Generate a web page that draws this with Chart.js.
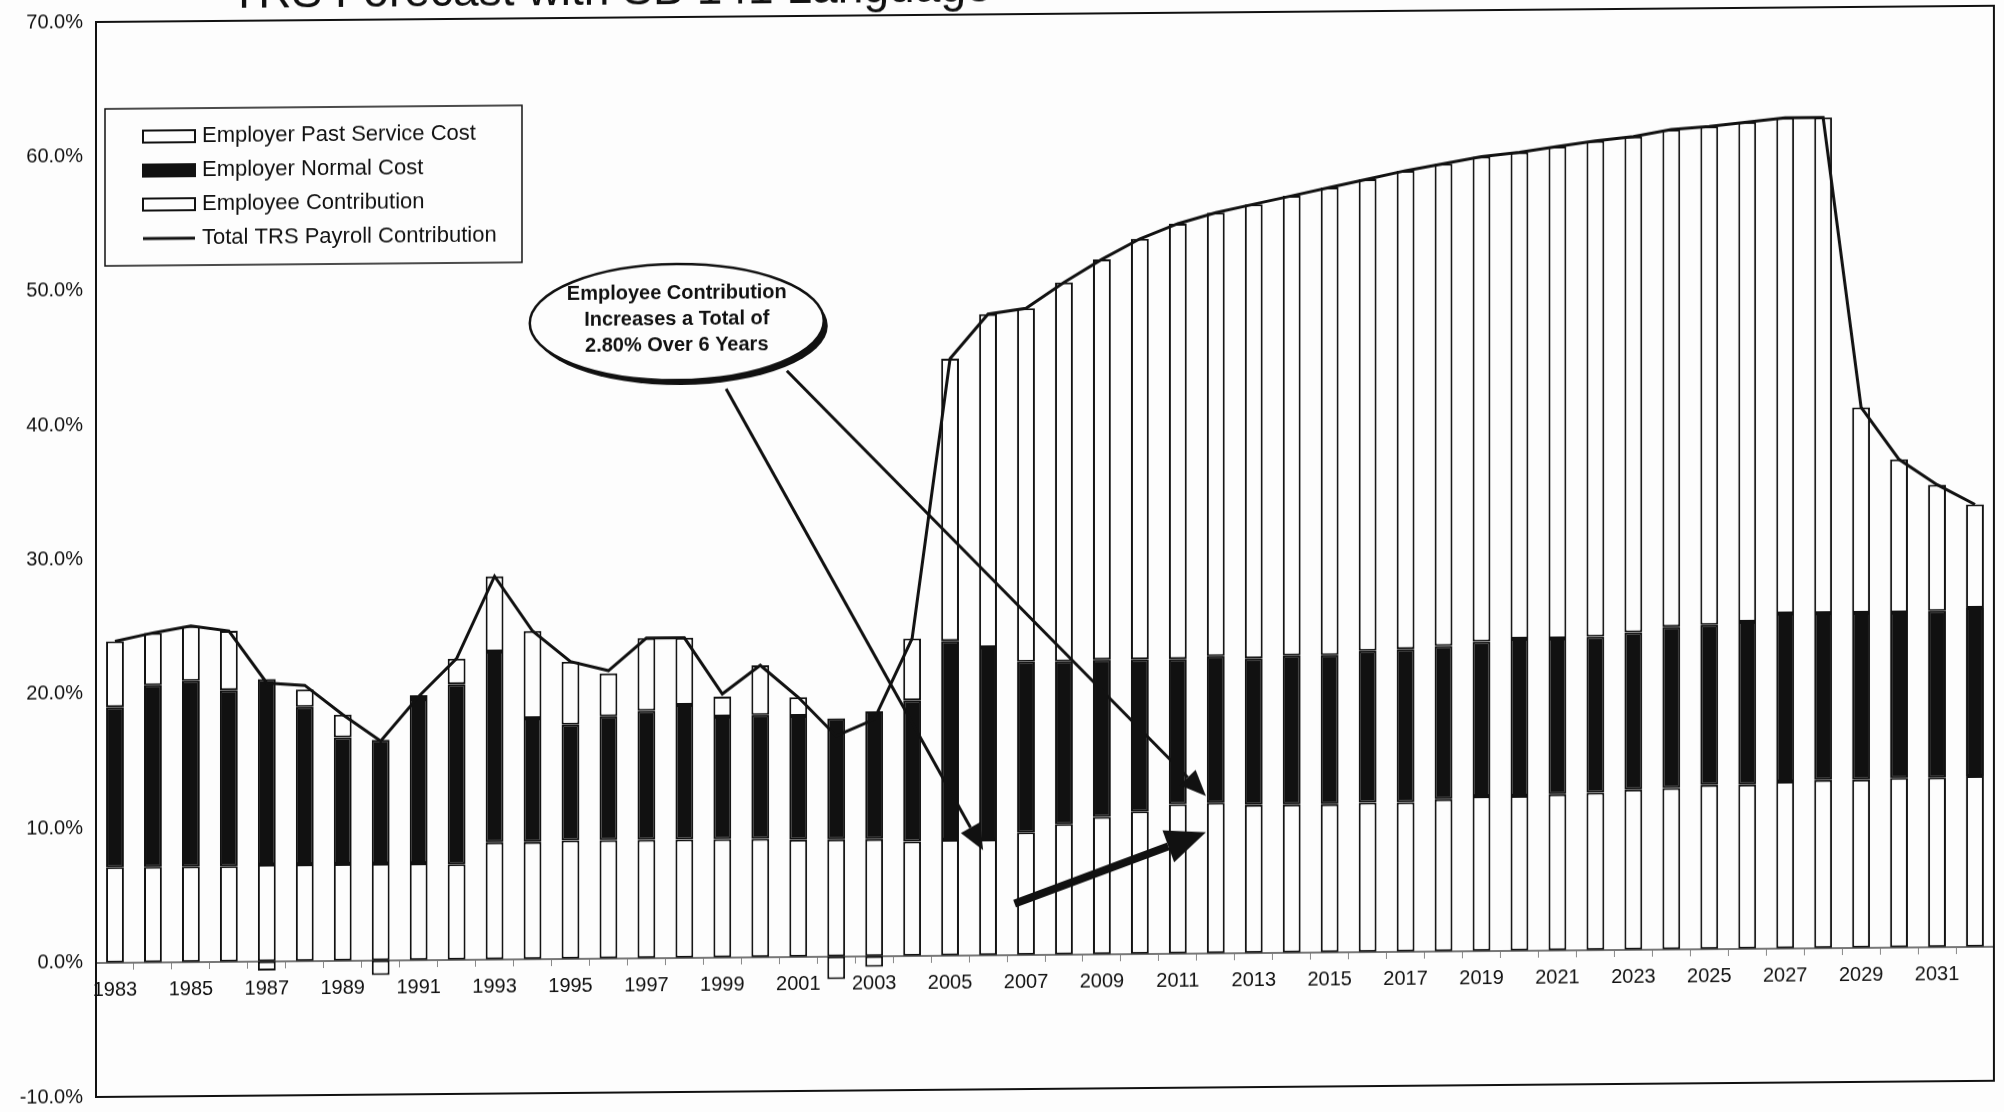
<!DOCTYPE html>
<html>
<head>
<meta charset="utf-8">
<title>TRS Forecast</title>
<script src="https://cdn.jsdelivr.net/npm/chart.js@4.4.1/dist/chart.umd.min.js"></script>
<style>
  html, body { margin: 0; padding: 0; background: #fdfdfd; overflow: hidden; }
  #wrap { width: 2004px; height: 1112px; }
  /* the scanned original leans up to the right a little */
  #trsChart { transform: skewY(-0.49deg); transform-origin: 96px 0; }
</style>
</head>
<body>
<div id="wrap"><canvas id="trsChart" width="2004" height="1112"></canvas></div>
<script>
// values, percent of payroll
const years = ['1983','1984','1985','1986','1987','1988','1989','1990','1991','1992',
  '1993','1994','1995','1996','1997','1998','1999','2000','2001','2002',
  '2003','2004','2005','2006','2007','2008','2009','2010','2011','2012',
  '2013','2014','2015','2016','2017','2018','2019','2020','2021','2022',
  '2023','2024','2025','2026','2027','2028','2029','2030','2031','2032'];

const employeeContribution = [7.1, 7.1, 7.1, 7.1, 7.2, 7.2, 7.2, 7.2, 7.2, 7.1,
  8.7, 8.7, 8.8, 8.8, 8.8, 8.8, 8.8, 8.8, 8.7, 8.7,
  8.7, 8.5, 8.6, 8.6, 9.1, 9.7, 10.2, 10.6, 11.1, 11.2,
  11.0, 11.0, 11.0, 11.1, 11.1, 11.3, 11.5, 11.5, 11.6, 11.7,
  11.9, 12.0, 12.2, 12.2, 12.4, 12.5, 12.5, 12.6, 12.6, 12.7];

const employerNormalCost = [11.9, 13.5, 13.8, 13.1, 13.8, 11.7, 9.4, 9.2, 12.2, 13.4,
  14.2, 9.2, 8.6, 9.2, 9.6, 10.0, 9.1, 9.2, 9.2, 9.0,
  9.5, 10.5, 14.8, 14.3, 12.7, 12.1, 11.7, 11.3, 10.8, 10.9,
  10.9, 11.1, 11.1, 11.3, 11.4, 11.4, 11.5, 11.7, 11.6, 11.6,
  11.7, 12.0, 11.9, 12.1, 12.5, 12.4, 12.4, 12.3, 12.4, 12.5];

const employerPastServiceCost = [4.9, 3.9, 4.1, 4.4, -0.7, 1.3, 1.7, -1.1, 0.3, 1.9,
  5.6, 6.5, 4.7, 3.2, 5.4, 5.0, 1.5, 3.7, 1.4, -1.7,
  -0.8, 4.6, 21.0, 24.8, 26.3, 28.2, 29.8, 31.3, 32.4, 33.0,
  33.8, 34.2, 34.8, 35.1, 35.6, 35.9, 36.1, 36.2, 36.6, 36.9,
  36.9, 37.0, 37.1, 37.2, 36.9, 36.9, 15.3, 11.4, 9.4, 7.7];

const totalContribution = [23.9, 24.5, 25.0, 24.6, 20.7, 20.5, 18.3, 16.3, 19.6, 22.4,
  28.5, 24.4, 22.1, 21.4, 23.8, 23.8, 19.6, 21.7, 19.3, 16.4,
  17.6, 23.6, 44.4, 47.7, 48.1, 50.0, 51.7, 53.2, 54.3, 55.1,
  55.7, 56.3, 56.9, 57.5, 58.1, 58.6, 59.1, 59.4, 59.8, 60.2,
  60.5, 61.0, 61.2, 61.5, 61.8, 61.8, 40.2, 36.3, 34.4, 32.9];

const titleText = 'TRS Forecast with SB 141 Language';
const calloutLines = ['Employee Contribution', 'Increases a Total of', '2.80% Over 6 Years'];

const FONT = "'Liberation Sans', Arial, sans-serif";
Chart.defaults.font.family = FONT;
Chart.defaults.color = '#111';

function arrow(ctx, x1, y1, x2, y2, width, headLen, headWidth) {
  const ang = Math.atan2(y2 - y1, x2 - x1);
  const bx = x2 - headLen * Math.cos(ang);
  const by = y2 - headLen * Math.sin(ang);
  ctx.lineWidth = width;
  ctx.beginPath();
  ctx.moveTo(x1, y1);
  ctx.lineTo(bx, by);
  ctx.stroke();
  ctx.beginPath();
  ctx.moveTo(x2, y2);
  ctx.lineTo(bx + headWidth / 2 * Math.sin(ang), by - headWidth / 2 * Math.cos(ang));
  ctx.lineTo(bx - headWidth / 2 * Math.sin(ang), by + headWidth / 2 * Math.cos(ang));
  ctx.closePath();
  ctx.fill();
}

// frame, cut-off title, legend box and the callout with its arrows
const decorations = {
  id: 'decorations',
  afterDraw(chart) {
    const { ctx, chartArea: a, scales: { x, y } } = chart;
    ctx.save();
    ctx.strokeStyle = '#111';
    ctx.fillStyle = '#111';

    ctx.lineWidth = 2;
    ctx.strokeRect(a.left, a.top, a.right - a.left, a.bottom - a.top);

    // title, only its lower half is on the page
    ctx.font = '40px ' + FONT;
    const w = ctx.measureText(titleText).width;
    const size = 40 * 762 / w;
    ctx.font = size + 'px ' + FONT;
    ctx.textBaseline = 'alphabetic';
    ctx.textAlign = 'left';
    ctx.fillText(titleText, 230, 9);

    // legend
    const lx = 105, ly = 109, lw = 417, lh = 157;
    ctx.fillStyle = '#fdfdfd';
    ctx.fillRect(lx, ly, lw, lh);
    ctx.lineWidth = 1.5;
    ctx.strokeRect(lx, ly, lw, lh);
    const order = [2, 1, 0, 3];
    ctx.font = '22px ' + FONT;
    ctx.textBaseline = 'middle';
    order.forEach((di, r) => {
      const ds = chart.data.datasets[di];
      const cy = 137 + r * 34;
      if (ds.type === 'line') {
        ctx.lineWidth = 3;
        ctx.beginPath();
        ctx.moveTo(143, cy);
        ctx.lineTo(195, cy);
        ctx.stroke();
      } else {
        ctx.fillStyle = ds.backgroundColor;
        ctx.fillRect(143, cy - 6, 52, 12);
        ctx.lineWidth = 2;
        ctx.strokeRect(143, cy - 6, 52, 12);
      }
      ctx.fillStyle = '#111';
      ctx.fillText(ds.label, 202, cy);
    });

    // callout ellipse with shadow
    const ex = x.getPixelForValue(14.8), ey = y.getPixelForValue(47.3);
    ctx.beginPath();
    ctx.ellipse(ex + 4, ey + 5, 147, 58, 0, 0, Math.PI * 2);
    ctx.fillStyle = '#111';
    ctx.fill();
    ctx.beginPath();
    ctx.ellipse(ex, ey, 147, 58, 0, 0, Math.PI * 2);
    ctx.fillStyle = '#fdfdfd';
    ctx.fill();
    ctx.lineWidth = 2.5;
    ctx.stroke();
    ctx.fillStyle = '#111';
    ctx.font = 'bold 20px ' + FONT;
    ctx.textAlign = 'center';
    calloutLines.forEach((t, i) => ctx.fillText(t, ex, ey - 29 + i * 26));

    // arrows
    arrow(ctx, x.getPixelForValue(16.1), y.getPixelForValue(42.3),
      x.getPixelForValue(22.87), y.getPixelForValue(7.8), 3, 26, 22);
    arrow(ctx, x.getPixelForValue(17.7), y.getPixelForValue(43.6),
      x.getPixelForValue(28.74), y.getPixelForValue(11.7), 3, 26, 22);
    arrow(ctx, x.getPixelForValue(23.7), y.getPixelForValue(3.8),
      x.getPixelForValue(28.74), y.getPixelForValue(9.0), 8, 40, 34);

    ctx.restore();
  }
};

const barStyle = { borderColor: '#111', borderWidth: 2, borderSkipped: false,
  barPercentage: 0.47, categoryPercentage: 1.0, order: 1 };

new Chart(document.getElementById('trsChart'), {
  type: 'bar',
  data: {
    labels: years,
    datasets: [
      { label: 'Employee Contribution', data: employeeContribution, backgroundColor: '#fdfdfd', ...barStyle },
      { label: 'Employer Normal Cost', data: employerNormalCost, backgroundColor: '#111', ...barStyle },
      { label: 'Employer Past Service Cost', data: employerPastServiceCost, backgroundColor: '#fdfdfd', ...barStyle },
      { type: 'line', label: 'Total TRS Payroll Contribution', data: totalContribution, yAxisID: 'yLine',
        borderColor: '#111', borderWidth: 3, pointRadius: 0, tension: 0, fill: false, order: 0 }
    ]
  },
  options: {
    responsive: false,
    animation: false,
    devicePixelRatio: 1,
    layout: { padding: { left: 0, right: 10, top: 22, bottom: 15 } },
    plugins: { legend: { display: false }, tooltip: { enabled: false } },
    scales: {
      x: {
        stacked: true,
        position: { y: 0 },
        offset: true,
        afterFit(s) { s.height = 0; s.paddingTop = 0; s.paddingBottom = 0; },
        grid: { display: true, drawOnChartArea: false, drawTicks: true, tickLength: 6, color: '#888', offset: true },
        border: { display: true, color: '#777', width: 2, dash: [2, 9] },
        ticks: {
          autoSkip: false, maxRotation: 0, minRotation: 0, padding: 10,
          font: { size: 20 }, color: '#111',
          callback(v, i) { return i % 2 === 0 ? years[i] : ''; }
        }
      },
      y: {
        stacked: true,
        min: -10, max: 70,
        afterFit(s) { s.width = 96; s.paddingTop = 0; s.paddingBottom = 0; },
        grid: { display: false, drawTicks: false },
        border: { display: true, color: '#111', width: 2 },
        ticks: { stepSize: 10, padding: 13, font: { size: 20 }, color: '#111',
          callback: v => v.toFixed(1) + '%' }
      },
      yLine: { display: false, min: -10, max: 70 }
    }
  },
  plugins: [decorations]
});
</script>
</body>
</html>
